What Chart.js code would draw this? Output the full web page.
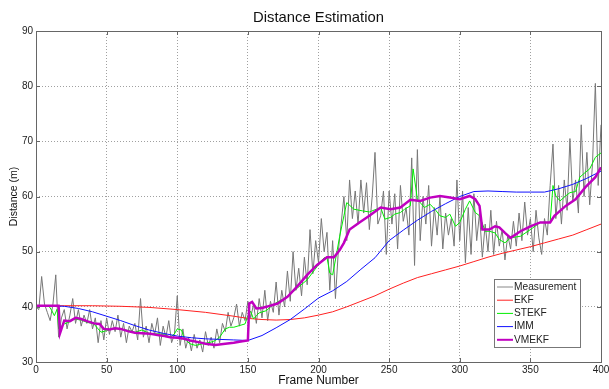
<!DOCTYPE html>
<html>
<head>
<meta charset="utf-8">
<script src="https://cdn.jsdelivr.net/npm/chart.js@4.4.1/dist/chart.umd.min.js"></script>
<style>
  html, body { margin: 0; padding: 0; background: #fff; }
  #wrap { width: 609px; height: 389px; }
</style>
</head>
<body>
<div id="wrap"><canvas id="chart" width="609" height="389"></canvas></div>
<script>
// Raw measurement, one value every 2 frames
const measFrames = [];
for (let f = 0; f <= 400; f += 2) measFrames.push(f);
const measurement = [
  40.0, 39.5, 45.5, 40.5, 39.0, 37.5, 40.5, 45.8, 34.5, 38.0,
  39.5, 36.0, 38.5, 41.5, 37.0, 39.5, 36.5, 38.5, 37.0, 39.5,
  36.0, 38.0, 33.5, 37.5, 34.0, 38.0, 35.0, 37.5, 35.5, 38.5,
  34.5, 37.0, 33.5, 36.5, 35.5, 37.0, 34.0, 41.5, 34.5, 36.5,
  33.5, 37.0, 35.0, 38.0, 33.0, 36.5, 34.5, 37.5, 33.5, 35.0,
  42.0, 33.0, 36.0, 32.5, 34.5, 32.0, 35.0, 32.5, 34.0, 31.8,
  35.5, 33.0, 34.5, 32.5, 36.0, 33.5, 37.0, 35.5, 39.0, 36.5,
  38.0, 40.5, 36.5, 39.0, 37.5, 41.0, 38.0, 40.5, 37.0, 41.5,
  38.0, 43.0, 37.5, 41.0, 39.0, 44.5, 38.5, 43.0, 40.0, 46.5,
  41.0, 50.0, 43.0, 47.0, 42.0, 49.0, 44.0, 54.0, 46.0, 52.0,
  48.0, 56.0, 50.0, 53.5, 43.0, 52.0, 41.5, 50.0, 55.0, 60.0,
  52.0, 63.0, 56.0, 61.0, 55.0, 63.0, 57.0, 62.5, 54.0, 60.0,
  68.0, 55.0, 56.5, 61.0, 49.5, 61.0, 55.0, 60.5, 50.5, 62.0,
  55.5, 58.0, 53.0, 67.0, 47.5, 68.5, 52.0, 60.0, 55.0, 62.0,
  51.0, 58.0, 53.0, 60.0, 50.5, 57.0, 53.0, 56.0, 51.0, 63.0,
  52.0, 61.0, 48.0, 58.0, 49.5, 60.5, 52.0, 57.0, 49.0, 55.0,
  50.0, 57.5, 49.5, 55.5, 51.0, 54.0, 48.5, 53.0, 50.5, 55.5,
  51.0, 57.0, 52.0, 59.0, 53.0, 56.0, 50.0, 57.5, 52.5, 49.5,
  56.0, 53.0, 62.0, 69.5, 56.0, 62.0, 55.0, 63.0, 57.5, 70.5,
  59.0, 63.0, 57.0, 73.0, 60.0, 68.0, 58.5, 66.0, 80.5, 62.0,
  73.0
];

const ekfFrames = [0, 20, 40, 60, 80, 100, 120, 140, 150, 160, 170, 180, 190, 200, 210, 220, 230,
  240, 250, 260, 270, 280, 290, 300, 310, 320, 330, 340, 350, 360, 370, 380, 390, 400];
const ekf = [40.2, 40.2, 40.2, 40.1, 39.9, 39.5, 39.0, 38.3, 37.9, 37.7, 37.6, 37.7, 38.0, 38.5, 39.1, 40.0, 41.0,
  42.0, 43.2, 44.3, 45.3, 46.0, 46.7, 47.4, 48.2, 49.0, 49.7, 50.3, 50.9, 51.6, 52.3, 53.0, 54.0, 55.0];

const stekfFrames = [0, 9, 11, 13, 15, 16, 18, 20, 24, 27, 32, 36, 41, 44, 46, 50, 55, 59, 64, 70,
  75, 81, 88, 91, 95, 98, 100, 103, 105, 109, 113, 116, 120, 124, 127, 130, 134, 137, 140, 144,
  148, 150, 152, 154, 156, 158, 163, 167, 171, 178, 185, 192, 199, 204, 206, 208, 210, 212, 215, 218,
  220, 225, 231, 236, 244, 247, 251, 254, 258, 261, 265, 267, 270, 275, 279, 283, 286, 290, 293, 297,
  300, 304, 307, 311, 314, 318, 321, 325, 328, 332, 336, 343, 350, 357, 364, 366, 368, 371, 375, 378,
  382, 385, 389, 392, 396, 400];
const stekf = [40.2, 40.2, 39.4, 38.4, 39.6, 36.0, 36.5, 36.9, 37.3, 37.8, 37.6, 37.2, 36.9, 36.0, 35.4, 35.7, 36.1, 36.0, 35.8, 35.4,
  35.8, 35.1, 35.1, 35.0, 34.5, 35.1, 36.0, 35.8, 34.2, 33.3, 33.0, 33.2, 33.4, 33.6, 33.9, 34.5, 36.0, 36.3, 36.3, 36.6,
  36.9, 38.4, 39.2, 37.8, 38.4, 38.9, 39.3, 40.2, 40.9, 41.8, 43.4, 44.9, 47.3, 48.9, 49.0, 46.1, 45.8, 48.5, 52.8, 56.5,
  58.9, 57.7, 57.4, 57.2, 58.0, 55.9, 56.2, 56.8, 57.1, 57.7, 58.3, 65.0, 59.5, 58.0, 58.6, 57.5, 56.5, 56.2, 56.8, 54.6,
  55.3, 57.7, 59.2, 57.1, 56.5, 53.7, 53.7, 53.4, 52.2, 51.6, 52.5, 52.8, 54.0, 55.3, 55.3, 62.0, 60.1, 59.2, 60.1, 60.7,
  60.9, 63.5, 64.4, 65.0, 67.1, 67.9];

const immFrames = [0, 10, 20, 30, 40, 50, 60, 70, 80, 90, 100, 110, 120, 130, 140, 150, 160, 170, 180, 190,
  200, 210, 220, 230, 240, 250, 260, 270, 280, 290, 300, 310, 320, 330, 340, 350, 360, 370, 380, 390, 400];
const imm = [40.2, 40.2, 40.1, 39.7, 39.1, 38.3, 37.5, 36.6, 35.8, 35.2, 34.7, 34.4, 34.2, 34.1, 34.0, 33.9, 34.8, 36.2, 37.7, 39.6,
  41.6, 42.9, 44.6, 46.8, 48.9, 52.0, 53.9, 55.7, 57.3, 58.7, 60.0, 60.9, 61.0, 60.9, 60.8, 60.8, 60.8, 61.4, 62.2, 63.3, 64.6];

const vmekfFrames = [0, 10, 16, 17, 20, 24, 28, 32, 36, 41, 45, 48, 52, 56, 60, 65, 70, 75, 81, 86,
  91, 95, 100, 105, 109, 115, 120, 127, 134, 140, 145, 150, 151, 153, 156, 160, 163, 167, 171, 178,
  185, 192, 199, 206, 211, 215, 218, 222, 229, 236, 244, 251, 258, 265, 272, 279, 286, 293, 300, 307,
  311, 314, 316, 321, 325, 328, 332, 336, 343, 350, 357, 364, 367, 375, 382, 389, 396, 400];
const vmekf = [40.2, 40.2, 40.2, 35.2, 37.5, 37.4, 38.0, 37.8, 37.4, 37.0, 36.9, 36.0, 35.9, 36.1, 36.0, 35.6, 35.3, 35.2, 35.1, 34.9,
  34.7, 34.5, 34.4, 34.2, 33.9, 33.6, 33.3, 33.1, 33.3, 33.5, 33.7, 33.9, 40.6, 40.9, 39.7, 39.8, 40.0, 40.3, 40.6, 41.8,
  43.7, 45.8, 47.6, 49.0, 49.0, 50.3, 51.6, 54.0, 55.3, 56.5, 58.0, 57.7, 58.0, 59.4, 59.2, 59.8, 60.1, 59.8, 59.5, 60.1,
  59.5, 58.3, 54.0, 54.0, 54.6, 54.4, 53.4, 52.5, 53.7, 54.6, 55.3, 55.3, 56.5, 58.3, 59.5, 61.7, 63.5, 65.3];

const xTicks = [0, 50, 100, 150, 200, 250, 300, 350, 400];
const yTicks = [30, 40, 50, 60, 70, 80, 90];

const FONT = "'Liberation Sans', Arial, Helvetica, sans-serif";

function pts(xs, ys) {
  return xs.map((x, i) => ({ x: x, y: ys[i] }));
}

const series = [
  { label: 'Measurement', data: pts(measFrames, measurement), color: '#777777', width: 1, order: 5 },
  { label: 'EKF', data: pts(ekfFrames, ekf), color: '#ff2020', width: 1, order: 4 },
  { label: 'STEKF', data: pts(stekfFrames, stekf), color: '#00ee00', width: 1, order: 3 },
  { label: 'IMM', data: pts(immFrames, imm), color: '#1010ff', width: 1, order: 2 },
  { label: 'VMEKF', data: pts(vmekfFrames, vmekf), color: '#c000c0', width: 2.5, order: 1 }
];

// title, box, inner tick marks like matlab, legend
const boxPlugin = {
  id: 'box',
  afterDraw(chart) {
    const { ctx, chartArea: a, scales } = chart;
    ctx.save();
    ctx.fillStyle = '#111';
    ctx.font = '14.8px ' + FONT;
    ctx.textAlign = 'center';
    ctx.textBaseline = 'middle';
    ctx.fillText('Distance Estimation', (a.left + a.right) / 2, 17.5);

    ctx.strokeStyle = '#666';
    ctx.lineWidth = 1;
    ctx.strokeRect(Math.round(a.left) + 0.5, Math.round(a.top) + 0.5,
      Math.round(a.right - a.left), Math.round(a.bottom - a.top));
    ctx.beginPath();
    xTicks.forEach(t => {
      const x = Math.round(scales.x.getPixelForValue(t)) + 0.5;
      ctx.moveTo(x, a.bottom); ctx.lineTo(x, a.bottom - 4);
      ctx.moveTo(x, a.top); ctx.lineTo(x, a.top + 4);
    });
    yTicks.forEach(t => {
      const y = Math.round(scales.y.getPixelForValue(t)) + 0.5;
      ctx.moveTo(a.left, y); ctx.lineTo(a.left + 4, y);
      ctx.moveTo(a.right, y); ctx.lineTo(a.right - 4, y);
    });
    ctx.stroke();

    // legend box
    const lx = 494, ly = 279, lw = 86, lh = 68;
    ctx.fillStyle = '#fff';
    ctx.fillRect(lx, ly, lw, lh);
    ctx.strokeStyle = '#777';
    ctx.strokeRect(lx + 0.5, ly + 0.5, lw, lh);
    ctx.font = '10.2px ' + FONT;
    ctx.textBaseline = 'middle';
    ctx.textAlign = 'left';
    series.forEach((s, i) => {
      const y = ly + 8 + i * 13.2;
      ctx.strokeStyle = i === 0 ? '#888' : s.color;
      ctx.lineWidth = i === 4 ? 2 : 1;
      ctx.beginPath();
      ctx.moveTo(lx + 3, y); ctx.lineTo(lx + 19, y);
      ctx.stroke();
      ctx.fillStyle = '#222';
      ctx.fillText(s.label, lx + 20, y);
    });
    ctx.restore();
  }
};

new Chart(document.getElementById('chart'), {
  type: 'line',
  data: {
    datasets: series.map(s => ({
      label: s.label,
      data: s.data,
      borderColor: s.color,
      borderWidth: s.width,
      pointRadius: 0,
      tension: 0,
      fill: false,
      order: s.order
    }))
  },
  options: {
    responsive: false,
    animation: false,
    layout: { padding: { left: 0, right: 8, top: 31, bottom: 0 } },
    plugins: {
      legend: { display: false },
      tooltip: { enabled: false },
      title: { display: false }
    },
    scales: {
      x: {
        type: 'linear',
        min: 0, max: 400,
        afterBuildTicks: s => { s.ticks = xTicks.map(v => ({ value: v })); },
        afterFit: s => { s.height = 27; s.paddingLeft = 0; s.paddingRight = 0; },
        ticks: { color: '#222', font: { family: FONT, size: 10 }, padding: 2.5, maxRotation: 0 },
        grid: { color: '#a0a0a0', drawTicks: false, lineWidth: 1 },
        border: { display: false, dash: [1, 2] },
        title: { display: true, text: 'Frame Number', color: '#111', font: { family: FONT, size: 12 }, padding: { top: 0, bottom: 1 } }
      },
      y: {
        type: 'linear',
        min: 30, max: 90,
        afterBuildTicks: s => { s.ticks = yTicks.map(v => ({ value: v })); },
        afterFit: s => { s.width = 36; s.paddingTop = 0; s.paddingBottom = 0; },
        ticks: { color: '#222', font: { family: FONT, size: 10 }, padding: 3 },
        grid: { color: '#a0a0a0', drawTicks: false, lineWidth: 1 },
        border: { display: false, dash: [1, 2] },
        title: { display: true, text: 'Distance (m)', color: '#111', font: { family: FONT, size: 10.5 }, padding: { top: 7.5, bottom: 0 } }
      }
    }
  },
  plugins: [boxPlugin]
});
</script>
</body>
</html>
